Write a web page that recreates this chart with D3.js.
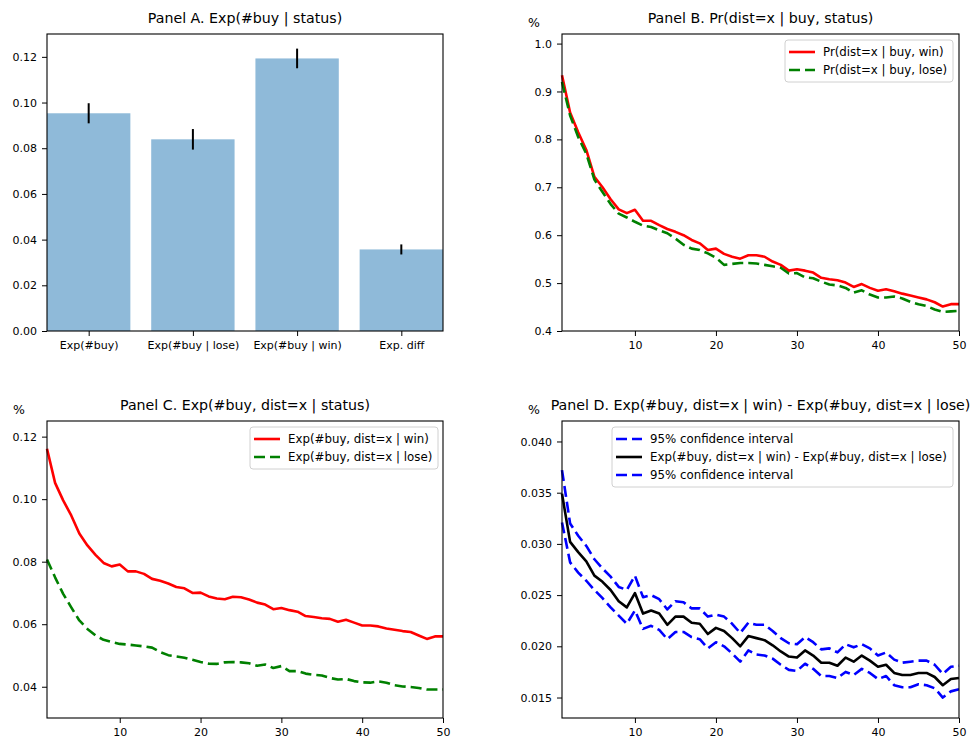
<!DOCTYPE html>
<html>
<head>
<meta charset="utf-8">
<script src="https://cdn.jsdelivr.net/npm/d3@7"></script>
<style>
body{margin:0;background:#fff;}
svg text{font-family:"DejaVu Sans",sans-serif;fill:#000;}
</style>
</head>
<body>
<svg class="fig" width="971" height="739"></svg>
<script>
// bar panel
var barLabels = ["Exp(#buy)","Exp(#buy | lose)","Exp(#buy | win)","Exp. diff"];
var barValues = [0.0953,0.0839,0.1193,0.0357];
var barErr = [0.0044,0.0045,0.0043,0.0022];
var barTicks = [0,0.02,0.04,0.06,0.08,0.10,0.12];

// distance 1..50
var dist = d3.range(1,51);
var xTicks = [10,20,30,40,50];

var prWin = [0.934,0.856,0.815,0.778,0.722,0.700,0.675,0.654,0.646,0.653,
    0.630,0.630,0.621,0.613,0.607,0.600,0.590,0.583,0.569,0.572,
    0.561,0.555,0.551,0.558,0.558,0.555,0.545,0.538,0.526,0.529,
    0.526,0.522,0.511,0.508,0.506,0.501,0.492,0.498,0.490,0.484,
    0.487,0.483,0.478,0.474,0.470,0.466,0.460,0.451,0.456,0.456];
var prLose = [0.920,0.850,0.805,0.770,0.716,0.690,0.665,0.645,0.637,0.628,
    0.620,0.617,0.610,0.604,0.593,0.580,0.572,0.569,0.562,0.553,
    0.538,0.540,0.542,0.542,0.541,0.538,0.535,0.532,0.520,0.521,
    0.512,0.510,0.503,0.497,0.495,0.490,0.480,0.485,0.476,0.470,
    0.470,0.472,0.468,0.461,0.456,0.452,0.445,0.440,0.441,0.442];
var prTicks = [0.4,0.5,0.6,0.7,0.8,0.9,1.0];

var expWin = [0.1161,0.1052,0.0996,0.0948,0.0890,0.0852,0.0822,0.0796,0.0785,0.0791,
    0.0769,0.0769,0.0761,0.0745,0.0739,0.0730,0.0719,0.0715,0.0700,0.0701,
    0.0689,0.0682,0.0680,0.0688,0.0686,0.0679,0.0669,0.0663,0.0648,0.0652,
    0.0645,0.0640,0.0626,0.0623,0.0619,0.0617,0.0608,0.0614,0.0605,0.0596,
    0.0596,0.0593,0.0586,0.0582,0.0578,0.0575,0.0564,0.0553,0.0561,0.0561];
var expLose = [0.0807,0.0750,0.0697,0.0654,0.0612,0.0585,0.0564,0.0550,0.0543,0.0537,
    0.0535,0.0532,0.0529,0.0525,0.0511,0.0501,0.0497,0.0493,0.0486,0.0479,
    0.0474,0.0473,0.0478,0.0479,0.0478,0.0475,0.0467,0.0471,0.0460,0.0466,
    0.0450,0.0450,0.0442,0.0438,0.0436,0.0428,0.0423,0.0425,0.0418,0.0414,
    0.0413,0.0417,0.0413,0.0405,0.0401,0.0399,0.0396,0.0391,0.0391,0.0391];
var expTicks = [0.04,0.06,0.08,0.10,0.12];

var diffMid = [0.0349,0.0302,0.0292,0.0283,0.0269,0.0263,0.0255,0.0244,0.0238,0.0252,
    0.0232,0.0235,0.0232,0.0221,0.0229,0.0229,0.0223,0.0222,0.0212,0.0218,
    0.0215,0.0208,0.0200,0.0210,0.0208,0.0206,0.0201,0.0195,0.0190,0.0189,
    0.0196,0.0191,0.0184,0.0184,0.0181,0.0189,0.0185,0.0191,0.0186,0.0180,
    0.0182,0.0174,0.0172,0.0172,0.0174,0.0174,0.0170,0.0162,0.0168,0.0169];
var diffHigh = [0.0372,0.0320,0.0308,0.0298,0.0285,0.0276,0.0268,0.0258,0.0255,0.0269,
    0.0248,0.0250,0.0246,0.0236,0.0244,0.0243,0.0237,0.0237,0.0229,0.0231,
    0.0229,0.0222,0.0213,0.0223,0.0221,0.0221,0.0215,0.0208,0.0203,0.0202,
    0.0209,0.0204,0.0197,0.0198,0.0194,0.0202,0.0199,0.0202,0.0198,0.0191,
    0.0194,0.0187,0.0184,0.0185,0.0186,0.0186,0.0182,0.0173,0.0180,0.0181];
var diffLow = [0.0321,0.0282,0.0272,0.0264,0.0255,0.0247,0.0238,0.0230,0.0222,0.0235,
    0.0217,0.0220,0.0216,0.0207,0.0214,0.0214,0.0209,0.0207,0.0198,0.0204,
    0.0200,0.0193,0.0185,0.0196,0.0192,0.0191,0.0188,0.0182,0.0177,0.0176,
    0.0183,0.0178,0.0171,0.0171,0.0169,0.0175,0.0172,0.0178,0.0174,0.0168,
    0.0171,0.0162,0.0160,0.0160,0.0163,0.0162,0.0159,0.0150,0.0156,0.0158];
var diffTicks = [0.015,0.020,0.025,0.030,0.035,0.040];

var svg = d3.select("svg.fig");
var DASH = "11,5";

var drawTitle = function(box,t,pct){
    svg.append("text")
        .attr("x",(box.l+box.r)/2)
        .attr("y",box.t-11)
        .attr("text-anchor","middle")
        .attr("font-size",14.2)
        .text(t);
    if(pct){
        svg.append("text")
            .attr("x",box.l-28)
            .attr("y",box.t-7)
            .attr("text-anchor","middle")
            .attr("font-size",12.5)
            .text("%");
    }
};

var drawAxes = function(box,x,y,yTicks,yFmt,xTickVals,xFmt){
    var ga = svg.append("g").attr("transform","translate(0,"+box.b+")")
        .call(d3.axisBottom(x).tickValues(xTickVals).tickFormat(xFmt).tickSize(5).tickPadding(5));
    var gl = svg.append("g").attr("transform","translate("+box.l+",0)")
        .call(d3.axisLeft(y).tickValues(yTicks).tickFormat(yFmt).tickSize(5).tickPadding(5));
    [ga,gl].forEach(function(g){
        g.select(".domain").remove();
        g.selectAll("text").attr("font-size",11).attr("font-family","DejaVu Sans");
        g.selectAll("line").attr("stroke","#000").attr("stroke-width",1);
    });
    svg.append("rect")
        .attr("x",box.l).attr("y",box.t)
        .attr("width",box.r-box.l).attr("height",box.b-box.t)
        .attr("fill","none").attr("stroke","#000").attr("stroke-width",1.1);
};

var drawLegend = function(x0,y0,w,items){
    var g = svg.append("g");
    g.append("rect")
        .attr("x",x0).attr("y",y0)
        .attr("width",w).attr("height",items.length*18+6)
        .attr("rx",3)
        .attr("fill","#fff").attr("fill-opacity",0.8)
        .attr("stroke","#d0d0d0");
    items.forEach(function(it,i){
        var cy = y0+12+i*18;
        g.append("line")
            .attr("x1",x0+4).attr("x2",x0+30)
            .attr("y1",cy).attr("y2",cy)
            .attr("stroke",it.c).attr("stroke-width",2.6)
            .attr("stroke-dasharray",it.dash ? DASH : null);
        g.append("text")
            .attr("x",x0+38).attr("y",cy+4)
            .attr("font-size",11.8)
            .text(it.t);
    });
};

var lineGen = function(x,y){
    return d3.line().x(function(d){return x(d[0]);}).y(function(d){return y(d[1]);});
};

var drawSeries = function(x,y,vals,color,dash){
    svg.append("path")
        .datum(d3.zip(dist,vals))
        .attr("d",lineGen(x,y))
        .attr("fill","none")
        .attr("stroke",color)
        .attr("stroke-width",2.6)
        .attr("stroke-linejoin","round")
        .attr("stroke-dasharray",dash ? DASH : null);
};

// Panel A
var boxA = {l:47,r:443,t:34,b:331};
var xA = d3.scaleBand().domain(barLabels).range([boxA.l,boxA.r]).paddingInner(0.2).paddingOuter(0);
var yA = d3.scaleLinear().domain([0,0.13]).range([boxA.b,boxA.t]);
svg.selectAll("rect.bar")
    .data(barValues)
    .enter().append("rect")
    .attr("class","bar")
    .attr("x",function(d,i){return xA(barLabels[i]);})
    .attr("width",xA.bandwidth())
    .attr("y",function(d){return yA(d);})
    .attr("height",function(d){return yA(0)-yA(d);})
    .attr("fill","#8fbad9");
svg.selectAll("line.err")
    .data(barValues)
    .enter().append("line")
    .attr("class","err")
    .attr("x1",function(d,i){return xA(barLabels[i])+xA.bandwidth()/2;})
    .attr("x2",function(d,i){return xA(barLabels[i])+xA.bandwidth()/2;})
    .attr("y1",function(d,i){return yA(d-barErr[i]);})
    .attr("y2",function(d,i){return yA(d+barErr[i]);})
    .attr("stroke","#000").attr("stroke-width",2);
var xAc = d3.scalePoint().domain(barLabels).range([xA(barLabels[0])+xA.bandwidth()/2,xA(barLabels[3])+xA.bandwidth()/2]);
drawAxes(boxA,xAc,yA,barTicks,d3.format(".2f"),barLabels,function(d){return d;});
drawTitle(boxA,"Panel A. Exp(#buy | status)",false);

// Panel B
var boxB = {l:562,r:959,t:34,b:331};
var xB = d3.scaleLinear().domain([1,50]).range([boxB.l,boxB.r]);
var yB = d3.scaleLinear().domain([0.4,1.02]).range([boxB.b,boxB.t]);
drawSeries(xB,yB,prWin,"#ff0000",false);
drawSeries(xB,yB,prLose,"#008000",true);
drawAxes(boxB,xB,yB,prTicks,d3.format(".1f"),xTicks,d3.format("d"));
drawTitle(boxB,"Panel B. Pr(dist=x | buy, status)",true);
drawLegend(785,40,168,[
    {t:"Pr(dist=x | buy, win)",c:"#ff0000",dash:false},
    {t:"Pr(dist=x | buy, lose)",c:"#008000",dash:true}
]);

// Panel C
var boxC = {l:47,r:443,t:421,b:718};
var xC = d3.scaleLinear().domain([1,50]).range([boxC.l,boxC.r]);
var yC = d3.scaleLinear().domain([0.03,0.125]).range([boxC.b,boxC.t]);
drawSeries(xC,yC,expWin,"#ff0000",false);
drawSeries(xC,yC,expLose,"#008000",true);
drawAxes(boxC,xC,yC,expTicks,d3.format(".2f"),xTicks,d3.format("d"));
drawTitle(boxC,"Panel C. Exp(#buy, dist=x | status)",true);
drawLegend(250,427,188,[
    {t:"Exp(#buy, dist=x | win)",c:"#ff0000",dash:false},
    {t:"Exp(#buy, dist=x | lose)",c:"#008000",dash:true}
]);

// Panel D
var boxD = {l:562,r:959,t:421,b:718};
var xD = d3.scaleLinear().domain([1,50]).range([boxD.l,boxD.r]);
var yD = d3.scaleLinear().domain([0.013,0.042]).range([boxD.b,boxD.t]);
drawSeries(xD,yD,diffHigh,"#0000ff",true);
drawSeries(xD,yD,diffMid,"#000000",false);
drawSeries(xD,yD,diffLow,"#0000ff",true);
drawAxes(boxD,xD,yD,diffTicks,d3.format(".3f"),xTicks,d3.format("d"));
drawTitle(boxD,"Panel D. Exp(#buy, dist=x | win) - Exp(#buy, dist=x | lose)",true);
drawLegend(612,427,341,[
    {t:"95% confidence interval",c:"#0000ff",dash:true},
    {t:"Exp(#buy, dist=x | win) - Exp(#buy, dist=x | lose)",c:"#000000",dash:false},
    {t:"95% confidence interval",c:"#0000ff",dash:true}
]);
</script>
</body>
</html>
